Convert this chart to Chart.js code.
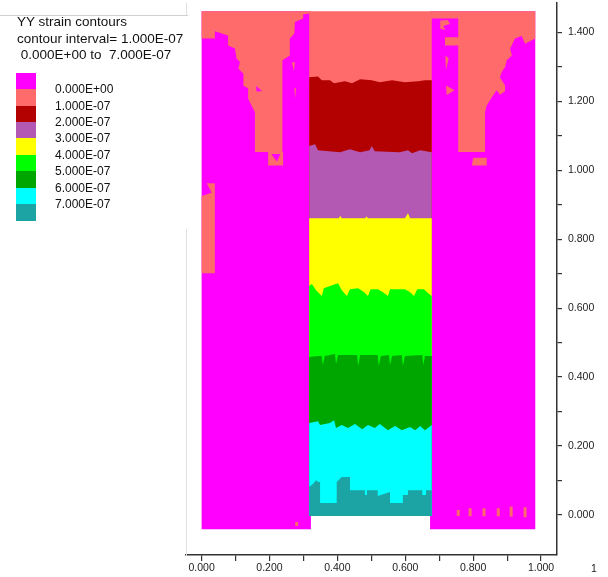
<!DOCTYPE html>
<html>
<head>
<meta charset="utf-8">
<script src="https://cdn.jsdelivr.net/npm/chart.js@4.4.1/dist/chart.umd.min.js"></script>
<style>
  html, body { margin: 0; padding: 0; background: #fff; }
  #wrap { position: relative; width: 608px; height: 577px; overflow: hidden; font-family: "Liberation Sans", Arial, sans-serif; color: #111; }
  #chart { position: absolute; left: 0; top: 0; }
  #keyBox { position: absolute; left: 0; top: 15px; width: 188px; height: 213px; background: #fff; border-top: 1px solid #cfcfcf; }
  #keyTitle { position: absolute; left: 17px; top: 14px; font-size: 13.5px; line-height: 16.7px; white-space: pre; }
  .sw { position: absolute; left: 16px; width: 20px; }
  .lv { position: absolute; left: 55px; font-size: 12px; line-height: 14px; white-space: pre; }
  #extra { position: absolute; left: 591px; top: 562px; font-size: 10.5px; line-height: 12px; color: #222; }
</style>
</head>
<body>
<div id="wrap">
  <canvas id="chart" width="608" height="577"></canvas>
  <div id="keyBox"></div>
  <div id="keyTitle"></div>
  <div id="keyItems"></div>
  <div id="extra">1</div>
</div>
<script>
// legend text + colours
const titleLines = ['YY strain contours', 'contour interval= 1.000E-07', ' 0.000E+00 to  7.000E-07'];
const levelLabels = ['0.000E+00', '1.000E-07', '2.000E-07', '3.000E-07', '4.000E-07', '5.000E-07', '6.000E-07', '7.000E-07'];
const levelColors = ['#ff00ff', '#ff6a6a', '#b30000', '#b359b3', '#ffff00', '#00ff00', '#00a600', '#00ffff', '#1ca3a3'];

const xTickLabels = ['0.000', '0.200', '0.400', '0.600', '0.800', '1.000'];
const yTickLabels = ['0.000', '0.200', '0.400', '0.600', '0.800', '1.000', '1.200', '1.400'];

// blocks (x, y pairs in model units)
const leftBlock = [[0, 1.461], [0.322, 1.461], [0.322, -0.041], [0, -0.041]];
const rightBlock = [[0.673, 1.461], [0.983, 1.461], [0.983, -0.041], [0.673, -0.041]];
const middleBlock = [[0.317, 1.461], [0.678, 1.461], [0.678, -0.003], [0.317, -0.003]];

const leftSalmon = [[0, 1.461], [0.320, 1.461], [0.320, 1.455], [0.299, 1.452], [0.299, 1.440], [0.275, 1.430],
  [0.273, 1.396], [0.260, 1.382], [0.260, 1.333], [0.238, 1.319], [0.238, 1.053], [0.240, 1.053], [0.240, 1.014],
  [0.196, 1.014], [0.196, 1.053], [0.157, 1.053], [0.157, 1.169], [0.147, 1.188], [0.137, 1.208], [0.137, 1.237],
  [0.123, 1.246], [0.123, 1.280], [0.108, 1.295], [0.113, 1.314], [0.103, 1.324], [0.098, 1.353], [0.078, 1.362],
  [0.078, 1.391], [0.039, 1.403], [0.039, 1.382], [0, 1.382]];
const leftSalmonPatch = [[0.015, 0.962], [0.039, 0.962], [0.039, 0.701], [0, 0.701], [0, 0.925], [0.030, 0.935]];
const leftSliverA = [[0.266, 1.313], [0.275, 1.313], [0.272, 1.287]];
const leftSliverB = [[0.273, 1.238], [0.278, 1.238], [0.276, 1.209]];
const leftHoleA = [[0.205, 1.047], [0.232, 1.047], [0.222, 1.025]];
const leftHoleB = [[0.160, 1.244], [0.178, 1.230], [0.162, 1.228]];

const rightSalmon = [[0.676, 1.461], [0.983, 1.461], [0.983, 1.382], [0.953, 1.367], [0.943, 1.389], [0.923, 1.382],
  [0.916, 1.367], [0.909, 1.353], [0.914, 1.333], [0.899, 1.319], [0.894, 1.299], [0.884, 1.285], [0.879, 1.269],
  [0.894, 1.246], [0.894, 1.229], [0.879, 1.219], [0.869, 1.232], [0.855, 1.212], [0.840, 1.188], [0.835, 1.169],
  [0.835, 1.053], [0.756, 1.053], [0.756, 1.362], [0.717, 1.362], [0.717, 1.386], [0.756, 1.386], [0.756, 1.440],
  [0.676, 1.440]];
const rightBitE = [[0.703, 1.434], [0.725, 1.436], [0.732, 1.424], [0.712, 1.418], [0.718, 1.406], [0.703, 1.410]];
const rightSliverA = [[0.718, 1.333], [0.728, 1.325], [0.720, 1.290]];
const rightSliverB = [[0.720, 1.246], [0.745, 1.232], [0.722, 1.218]];
const rightPiece = [[0.800, 1.036], [0.840, 1.036], [0.840, 1.014], [0.796, 1.014]];

// contour band upper edges in the middle block (top to bottom)
const edge1 = [[0.317, 1.270], [0.343, 1.272], [0.354, 1.261], [0.378, 1.261], [0.390, 1.252], [0.422, 1.258], [0.443, 1.252],
  [0.467, 1.264], [0.501, 1.261], [0.525, 1.255], [0.561, 1.261], [0.599, 1.255], [0.638, 1.258], [0.658, 1.261], [0.678, 1.261]];
const edge2 = [[0.317, 1.070], [0.334, 1.075], [0.343, 1.058], [0.408, 1.052], [0.437, 1.061], [0.467, 1.052], [0.495, 1.058],
  [0.501, 1.070], [0.510, 1.055], [0.584, 1.052], [0.608, 1.058], [0.620, 1.049], [0.644, 1.058], [0.678, 1.052]];
const edge3 = [[0.317, 0.861], [0.405, 0.861], [0.408, 0.868], [0.413, 0.861], [0.481, 0.861], [0.486, 0.866], [0.490, 0.861],
  [0.599, 0.861], [0.608, 0.875], [0.614, 0.861], [0.678, 0.861]];
const edge4 = [[0.317, 0.664], [0.325, 0.670], [0.337, 0.652], [0.354, 0.635], [0.360, 0.658], [0.387, 0.667], [0.402, 0.672],
  [0.413, 0.652], [0.428, 0.635], [0.437, 0.655], [0.461, 0.658], [0.479, 0.646], [0.490, 0.635], [0.498, 0.655], [0.519, 0.655],
  [0.534, 0.646], [0.549, 0.635], [0.555, 0.655], [0.599, 0.655], [0.614, 0.646], [0.626, 0.635], [0.635, 0.655], [0.655, 0.655],
  [0.667, 0.643], [0.678, 0.635]];
const edge5 = [[0.317, 0.458], [0.343, 0.461], [0.354, 0.461], [0.357, 0.435], [0.363, 0.461], [0.393, 0.467], [0.396, 0.438],
  [0.402, 0.464], [0.458, 0.464], [0.461, 0.432], [0.467, 0.464], [0.519, 0.464], [0.522, 0.432], [0.528, 0.461], [0.552, 0.464],
  [0.555, 0.435], [0.561, 0.461], [0.590, 0.464], [0.593, 0.432], [0.599, 0.461], [0.650, 0.464], [0.653, 0.435], [0.658, 0.461],
  [0.678, 0.461]];
const edge6 = [[0.317, 0.267], [0.343, 0.272], [0.349, 0.261], [0.378, 0.267], [0.390, 0.275], [0.396, 0.252], [0.413, 0.261],
  [0.431, 0.252], [0.452, 0.264], [0.473, 0.249], [0.490, 0.261], [0.510, 0.252], [0.525, 0.264], [0.549, 0.246], [0.570, 0.258],
  [0.590, 0.246], [0.614, 0.255], [0.629, 0.246], [0.644, 0.258], [0.658, 0.246], [0.678, 0.261]];
const edge7 = [[0.317, 0.081], [0.328, 0.090], [0.337, 0.101], [0.344, 0.096], [0.349, 0.096], [0.349, 0.035], [0.398, 0.035],
  [0.398, 0.096], [0.413, 0.110], [0.437, 0.110], [0.437, 0.072], [0.481, 0.072], [0.481, 0.058], [0.487, 0.058], [0.487, 0.072],
  [0.519, 0.072], [0.519, 0.055], [0.555, 0.067], [0.555, 0.035], [0.593, 0.035], [0.593, 0.058], [0.608, 0.058], [0.608, 0.072],
  [0.650, 0.072], [0.650, 0.058], [0.661, 0.058], [0.661, 0.072], [0.678, 0.072]];

// small salmon spots near the base
const spotX = [0.280, 0.756, 0.791, 0.832, 0.874, 0.912, 0.953];
const spotY = [-0.026, 0.006, 0.008, 0.008, 0.008, 0.010, 0.008];
const spotSize = [2, 3, 4, 4, 4, 5, 5];

// build the html key
document.getElementById('keyTitle').textContent = titleLines.join('\n');
const keyItems = document.getElementById('keyItems');
const swTop = 72.7, swH = 16.4;
levelColors.forEach((c, i) => {
  const d = document.createElement('div');
  d.className = 'sw';
  d.style.top = (swTop + i * swH) + 'px';
  d.style.height = (swH + 0.4) + 'px';
  d.style.background = c;
  keyItems.appendChild(d);
});
levelLabels.forEach((t, i) => {
  const d = document.createElement('div');
  d.className = 'lv';
  d.style.top = (swTop + (i + 1) * swH - 7) + 'px';
  d.textContent = t;
  keyItems.appendChild(d);
});

function pts(arr) {
  return arr.map(p => ({ x: p[0], y: p[1] }));
}
function band(edge) {
  return edge.concat([[0.678, -0.003], [0.317, -0.003]]);
}

// painting order: first = bottom
const layers = [
  [leftBlock, levelColors[0]],
  [rightBlock, levelColors[0]],
  [leftSalmon, levelColors[1]],
  [leftSalmonPatch, levelColors[1]],
  [leftSliverA, levelColors[1]],
  [leftSliverB, levelColors[1]],
  [leftHoleA, levelColors[0]],
  [leftHoleB, levelColors[0]],
  [rightSalmon, levelColors[1]],
  [rightBitE, levelColors[1]],
  [rightSliverA, levelColors[1]],
  [rightSliverB, levelColors[1]],
  [rightPiece, levelColors[1]],
  [middleBlock, levelColors[1]],
  [band(edge1), levelColors[2]],
  [band(edge2), levelColors[3]],
  [band(edge3), levelColors[4]],
  [band(edge4), levelColors[5]],
  [band(edge5), levelColors[6]],
  [band(edge6), levelColors[7]],
  [band(edge7), levelColors[8]]
];

const datasets = layers.map((l, i) => ({
  data: pts(l[0]),
  backgroundColor: l[1],
  borderWidth: 0,
  pointRadius: 0,
  fill: 'shape',
  tension: 0,
  order: -i,
  yAxisID: 'y'
}));

datasets.push({
  data: spotX.map((x, i) => ({ x: x, y: spotY[i] })),
  showLine: false,
  pointStyle: 'line',
  pointRotation: 90,
  pointRadius: spotSize,
  pointBorderWidth: 3,
  pointBorderColor: levelColors[1],
  pointBackgroundColor: levelColors[1],
  fill: false,
  order: -100,
  yAxisID: 'y'
});

const tickFont = { family: '"Liberation Sans", Arial, sans-serif', size: 10.5 };

new Chart(document.getElementById('chart'), {
  type: 'line',
  data: { datasets: datasets },
  options: {
    responsive: false,
    animation: false,
    devicePixelRatio: 1,
    layout: { autoPadding: false, padding: { left: 186, top: 3, right: 0, bottom: 0 } },
    plugins: { legend: { display: false }, tooltip: { enabled: false } },
    scales: {
      x: {
        type: 'linear',
        position: 'bottom',
        min: -0.046,
        max: 1.047,
        border: { display: true, color: '#333', width: 1.5 },
        grid: { drawOnChartArea: false, drawTicks: true, tickLength: 6, color: '#333', lineWidth: 1.2 },
        ticks: {
          stepSize: 0.1,
          includeBounds: false,
          autoSkip: false,
          maxRotation: 0,
          padding: 1,
          color: '#222',
          font: tickFont,
          callback: v => (xTickLabels.includes(v.toFixed(3)) ? v.toFixed(3) : '')
        },
        afterFit: s => { s.height = 22; s.paddingLeft = 0; s.paddingRight = 0; }
      },
      y: {
        type: 'linear',
        position: 'right',
        min: -0.116,
        max: 1.485,
        border: { display: true, color: '#333', width: 1.5 },
        grid: { drawOnChartArea: false, drawTicks: true, tickLength: 5, color: '#333', lineWidth: 1.2 },
        ticks: {
          stepSize: 0.1,
          includeBounds: false,
          autoSkip: false,
          padding: 6,
          color: '#222',
          font: tickFont,
          callback: v => (yTickLabels.includes(v.toFixed(3)) ? v.toFixed(3) : '')
        },
        afterBuildTicks: s => { s.ticks = s.ticks.filter(t => t.value > -0.001); },
        afterFit: s => { s.width = 51; s.paddingTop = 0; s.paddingBottom = 0; }
      },
      yl: {
        type: 'linear',
        position: 'left',
        min: -0.116,
        max: 1.485,
        border: { display: true, color: '#e0e0e0', width: 1 },
        grid: { display: false, drawTicks: false },
        ticks: { display: false },
        afterFit: s => { s.width = 0; s.paddingTop = 0; s.paddingBottom = 0; }
      }
    }
  }
});
</script>
</body>
</html>
